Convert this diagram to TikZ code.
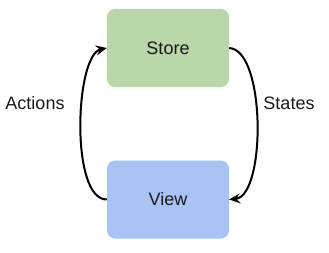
\documentclass[tikz,border=0pt]{standalone}
\usepackage{fontspec}
\setmainfont{Liberation Sans}
\usetikzlibrary{arrows.meta}
\definecolor{storegreen}{HTML}{B9D7A9}
\definecolor{viewblue}{HTML}{A9C4F4}
\tikzset{
  box/.style   = {rounded corners=8pt, minimum width=122pt, minimum height=78pt,
                  font=\fontsize{18}{20}\selectfont, text=black!90},
  lbl/.style   = {font=\fontsize{18}{20}\selectfont, text=black!90},
  flow/.style  = {-{Stealth[length=11pt,width=10pt,inset=4pt]}, line width=2pt}
}
\begin{document}
\begin{tikzpicture}[x=1pt,y=-1pt]
  \useasboundingbox (0,0) rectangle (329,252);
  % ---- the two boxes ----
  \node[box, fill=storegreen] (store) at (168,48) {Store};
  \node[box, fill=viewblue] (view) at (168,199.5) {View};
  % ---- labels ----
  \node[lbl] (actions) at (35,103) {Actions};
  \node[lbl] (states) at (289,103) {States};
  % ---- the loop ----
  \draw[flow] (view.west) .. controls (70,200) and (75,55) .. (store.west);
  \draw[flow] (store.east) .. controls (266,50) and (266,196) .. (view.east);
\end{tikzpicture}
\end{document}
